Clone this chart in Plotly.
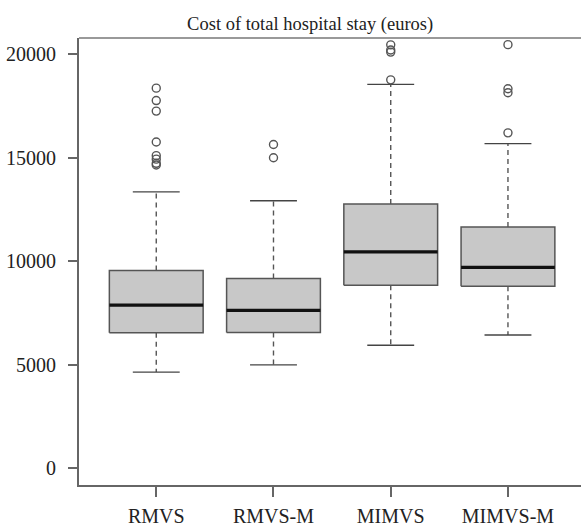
import plotly.graph_objects as go

categories = ["RMVS", "RMVS-M", "MIMVS", "MIMVS-M"]
q1 = [6550, 6560, 8840, 8800]
median = [7880, 7630, 10450, 9710]
q3 = [9550, 9165, 12760, 11660]
whisker_low = [4650, 5000, 5950, 6440]
whisker_high = [13350, 12920, 18540, 15680]
outliers = [
    [18360, 17760, 17250, 15760, 15100, 14930, 14730, 14650],
    [15640, 15000],
    [20450, 20200, 20100, 18760],
    [20460, 18330, 18140, 16200],
]
y_ticks = [0, 5000, 10000, 15000, 20000]

BOX_HALF = 0.4
CAP_HALF = 0.2
FONT = "Liberation Serif"

fig = go.Figure()
pos = list(range(1, len(categories) + 1))

for i, x in enumerate(pos):
    # dashed whiskers
    for a, b in [(q3[i], whisker_high[i]), (q1[i], whisker_low[i])]:
        fig.add_trace(go.Scatter(x=[x, x], y=[a, b], mode="lines",
                                 line=dict(color="#555555", width=1.4, dash="5px,4px"),
                                 hoverinfo="skip", showlegend=False))
    # caps
    for v in [whisker_high[i], whisker_low[i]]:
        fig.add_trace(go.Scatter(x=[x - CAP_HALF, x + CAP_HALF], y=[v, v], mode="lines",
                                 line=dict(color="#444444", width=1.4),
                                 hoverinfo="skip", showlegend=False))
    # box
    fig.add_trace(go.Scatter(x=[x - BOX_HALF, x + BOX_HALF, x + BOX_HALF, x - BOX_HALF, x - BOX_HALF],
                             y=[q1[i], q1[i], q3[i], q3[i], q1[i]],
                             mode="lines", fill="toself", fillcolor="#c8c8c8",
                             line=dict(color="#555555", width=1.5),
                             hoverinfo="skip", showlegend=False))
    # median
    fig.add_trace(go.Scatter(x=[x - BOX_HALF, x + BOX_HALF], y=[median[i], median[i]], mode="lines",
                             line=dict(color="#111111", width=3.2),
                             hoverinfo="skip", showlegend=False))
    # outliers
    fig.add_trace(go.Scatter(x=[x] * len(outliers[i]), y=outliers[i], mode="markers",
                             marker=dict(symbol="circle-open", size=8, color="#555555",
                                         line=dict(width=1.4, color="#555555")),
                             hoverinfo="skip", showlegend=False))

fig.update_layout(
    width=581, height=527,
    margin=dict(l=79, r=0, t=38, b=40),
    paper_bgcolor="white", plot_bgcolor="white",
    font=dict(family=FONT, size=20, color="#222222"),
    title=dict(text="Cost of total hospital stay (euros)", x=0.4605, xref="paper",
               xanchor="center", y=1 - 30 / 527, yref="container", yanchor="bottom",
               font=dict(family=FONT, size=18.5, color="#222222")),
    xaxis=dict(range=[0.341, 4.623], tickvals=pos, ticktext=categories,
               showline=True, linecolor="#666666", linewidth=2, mirror=False,
               ticks="outside", ticklen=10, tickwidth=1.5, tickcolor="#666666",
               ticklabelstandoff=2,
               showgrid=False, zeroline=False, fixedrange=True),
    yaxis=dict(range=[-800, 20780], tickvals=y_ticks, ticktext=[str(v) for v in y_ticks],
               showline=True, linecolor="#666666", linewidth=2,
               ticks="outside", ticklen=9, tickwidth=1.5, tickcolor="#666666",
               ticklabelstandoff=8,
               showgrid=False, zeroline=False, fixedrange=True),
    shapes=[dict(type="line", xref="paper", yref="paper", x0=0, x1=1, y0=1, y1=1,
                 line=dict(color="#999999", width=2))],
)

fig.write_html("out.html", config={"displayModeBar": False},
               post_script="document.body.style.margin='0';")
